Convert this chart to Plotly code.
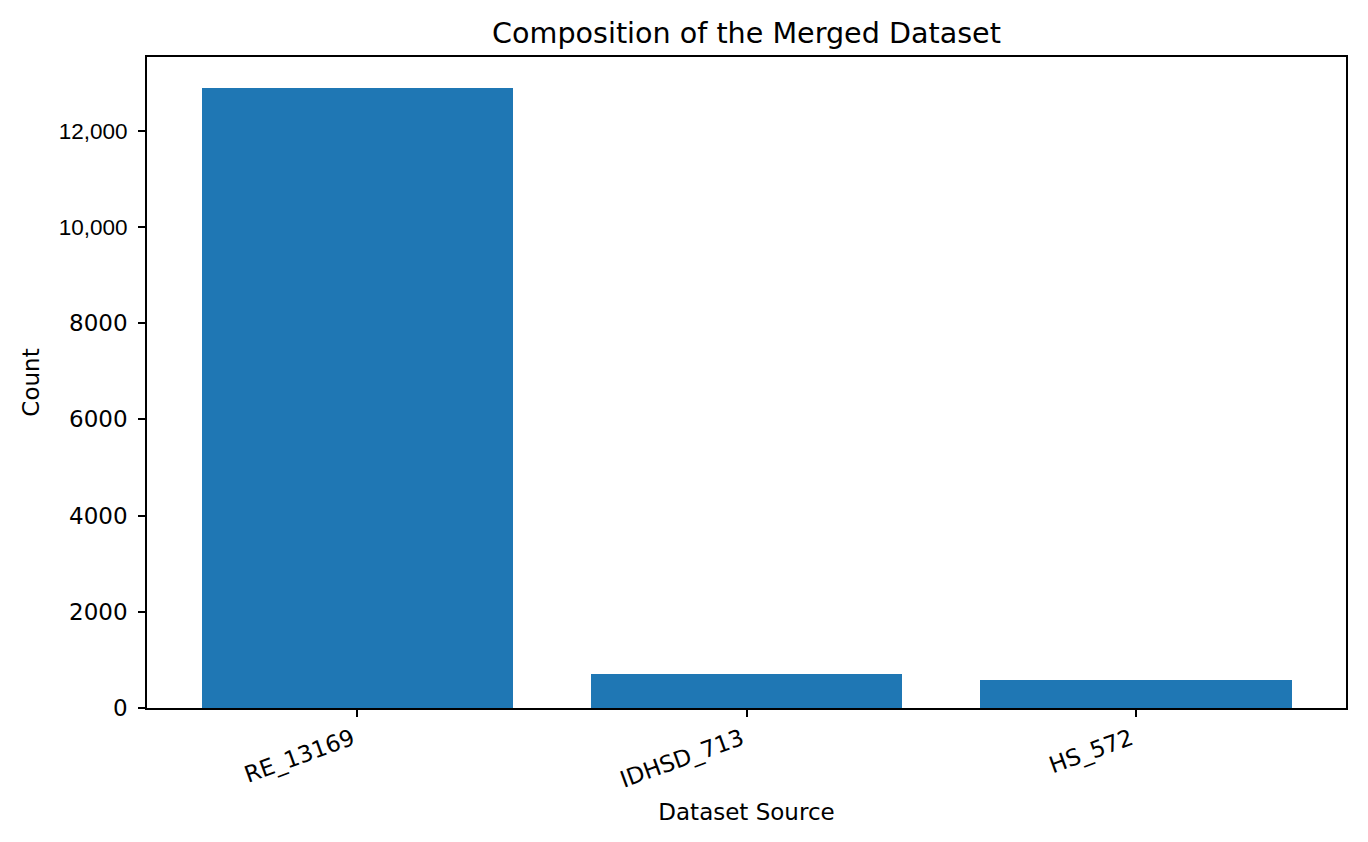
import plotly.graph_objects as go

AZUL = '#1f77b4'

# dados
fontes = ['RE_13169', 'IDHSD_713', 'HS_572']
contagens = [12884, 713, 572]

y_ticks = [0, 2000, 4000, 6000, 8000, 10000, 12000]
y_labels = ['0', '2000', '4000', '6000', '8000',
            "<span style=\"font-family:'Liberation Sans';font-size:22.5px\">10,000</span>",
            "<span style=\"font-family:'Liberation Sans';font-size:22.5px\">12,000</span>"]

fig = go.Figure(go.Bar(x=list(range(len(fontes))), y=contagens, width=0.8,
                       marker=dict(color=AZUL, line_width=0)))

# a pagina tem 8px de margem no body, por isso o tamanho e as margens descontam isso
fig.update_layout(width=1360, height=834, font_family="DejaVu Sans", font_size=23,
                  font_color='#000000', plot_bgcolor='#FFFFFF', paper_bgcolor='#FFFFFF',
                  margin=dict(l=139, r=22, t=49, b=134),
                  title=dict(text="Composition of the Merged Dataset", x=(746.5 - 8) / 1360, xanchor='center',
                             y=1 - 25 / 834, yanchor='middle', yref='container',
                             font=dict(size=28.6, color='#000000')),
                  showlegend=False, bargap=0)

fig.update_xaxes(range=[-0.54, 2.54], tickvals=list(range(len(fontes))), ticktext=fontes,
                 tickangle=-20, ticks='outside', ticklen=7, tickwidth=1.5, tickcolor='black',
                 ticklabelshift=-5,
                 showline=True, linecolor='black', linewidth=1.5, mirror=True, showgrid=False,
                 zeroline=False, title=dict(text="Dataset Source", standoff=12, font_size=23))

fig.update_yaxes(range=[0, contagens[0] * 1.05], tickvals=y_ticks, ticktext=y_labels,
                 ticks='outside', ticklen=7, tickwidth=1.5, tickcolor='black', ticklabelstandoff=6,
                 showline=True, linecolor='black', linewidth=1.5, mirror=True, showgrid=False,
                 zeroline=False, title=dict(text="Count", standoff=13, font_size=23))

fig.write_html("out.html")
